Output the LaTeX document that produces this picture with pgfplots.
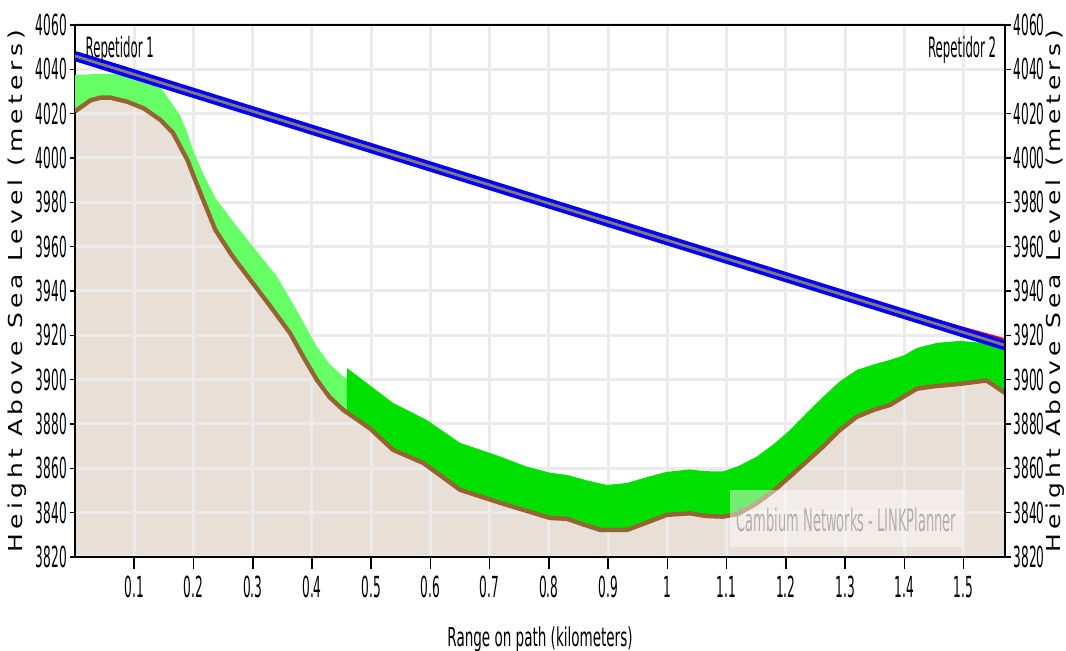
\documentclass[border=0pt]{standalone}
\usepackage{fontspec}
\setmainfont{DejaVu Sans}[FakeStretch=0.42]
\newfontfamily\xlabfont{DejaVu Sans}[FakeStretch=0.52]
\newfontfamily\ylabfont{DejaVu Sans}[FakeStretch=1.3,LetterSpace=22]
\usepackage{pgfplots}
\pgfplotsset{compat=1.18}
\definecolor{beige}{RGB}{232,224,215}
\definecolor{lgreen}{RGB}{102,255,102}
\definecolor{bgreen}{RGB}{0,224,0}
\definecolor{terrain}{RGB}{150,100,50}
\definecolor{gridc}{RGB}{235,235,235}
\definecolor{losmid}{RGB}{135,120,120}
\definecolor{wmtext}{RGB}{180,175,170}
\begin{document}
\begin{tikzpicture}
\begin{axis}[name=ax, set layers, scale only axis, width=465pt, height=266pt,
  xmin=0, xmax=1.57, ymin=3820, ymax=4060,
  xtick={0.1,0.2,0.3,0.4,0.5,0.6,0.7,0.8,0.9,1,1.1,1.2,1.3,1.4,1.5},
  ytick={3820,3840,3860,3880,3900,3920,3940,3960,3980,4000,4020,4040,4060},
  xtick pos=left, ytick pos=left, tick align=outside,
  xtick style={/pgfplots/major tick length=6pt},
  ytick style={/pgfplots/major tick length=2.5pt},
  grid=major, major grid style={gridc, line width=1.5pt},
  axis line style={black, line width=0.8pt},
  tick style={black, line width=0.8pt},
  ticklabel style={font=\fontsize{14.5}{16}\selectfont},
  xticklabel style={yshift=-1.8pt},
  yticklabel style={xshift=3.7pt},
  /pgf/number format/assume math mode=true,
  /pgf/number format/1000 sep={},
  scaled y ticks=false, scaled x ticks=false,
  xlabel={Range on path (kilometers)},
  xlabel style={font=\xlabfont\fontsize{13}{15}\selectfont, at={(axis description cs:0.5,-0.155)}, anchor=center},
]
% ground fill
\addplot[on layer=axis background, draw=none, fill=beige] coordinates {
(0.000,4021) (0.026,4026) (0.043,4027.2) (0.060,4027.2) (0.088,4025.4) (0.116,4022.4) (0.144,4017.2) (0.165,4011.5) (0.178,4005) (0.190,3999) (0.200,3992) (0.218,3980) (0.237,3967.5) (0.265,3956) (0.296,3945) (0.330,3933) (0.363,3921) (0.386,3910) (0.408,3900) (0.430,3892) (0.453,3886.3) (0.498,3878) (0.537,3868.3) (0.588,3862.4) (0.650,3850.3) (0.718,3844.4) (0.760,3841) (0.802,3837.6) (0.831,3837.2) (0.860,3834.5) (0.887,3832.2) (0.932,3832.2) (0.965,3835.5) (0.999,3839) (1.038,3839.7) (1.065,3838.5) (1.094,3838.2) (1.120,3839.5) (1.151,3844.2) (1.180,3850) (1.207,3856.3) (1.263,3869.8) (1.290,3877) (1.320,3883.3) (1.350,3886.5) (1.376,3888.6) (1.400,3892.5) (1.421,3895.9) (1.450,3897) (1.494,3898.1) (1.539,3899.6) (1.570,3894)
(1.570,3820) (0,3820)} -- cycle;
% light green clutter band
\addplot[draw=none, fill=lgreen] coordinates {
(0,4037.5) (0.05,4038) (0.095,4037.5) (0.116,4036.5) (0.130,4035) (0.144,4032) (0.160,4026) (0.178,4019) (0.190,4011) (0.200,4003) (0.218,3992) (0.237,3982) (0.265,3972) (0.296,3961.5) (0.341,3946.5) (0.375,3931) (0.408,3915) (0.430,3907) (0.453,3901.4) (0.459,3900.5)
(0.459,3885.2) (0.453,3886.3) (0.430,3892) (0.408,3900) (0.386,3910) (0.363,3921) (0.330,3933) (0.296,3945) (0.265,3956) (0.237,3967.5) (0.218,3980) (0.200,3992) (0.190,3999) (0.178,4005) (0.165,4011.5) (0.144,4017.2) (0.116,4022.4) (0.088,4025.4) (0.060,4027.2) (0.043,4027.2) (0.026,4026) (0.000,4021)} -- cycle;
% bright green clutter band
\addplot[draw=none, fill=bgreen] coordinates {
(0.459,3885.2) (0.459,3905.3) (0.500,3897) (0.537,3889.5) (0.594,3881.8) (0.650,3871.5) (0.718,3865.3) (0.760,3861) (0.802,3858) (0.831,3857) (0.865,3854.5) (0.898,3852.5) (0.932,3853.4) (0.965,3856) (0.999,3858.4) (1.038,3859.5) (1.065,3858.7) (1.094,3858.6) (1.120,3861) (1.151,3865.3) (1.180,3871) (1.207,3877.3) (1.235,3885) (1.263,3892.3) (1.290,3899) (1.320,3904.4) (1.350,3907) (1.376,3908.9) (1.400,3911) (1.421,3914.3) (1.455,3916.6) (1.494,3917.5) (1.533,3916.6) (1.570,3913.4)
(1.570,3894) (1.539,3899.6) (1.494,3898.1) (1.450,3897) (1.421,3895.9) (1.400,3892.5) (1.376,3888.6) (1.350,3886.5) (1.320,3883.3) (1.290,3877) (1.263,3869.8) (1.207,3856.3) (1.180,3850) (1.151,3844.2) (1.120,3839.5) (1.094,3838.2) (1.065,3838.5) (1.038,3839.7) (0.999,3839) (0.965,3835.5) (0.932,3832.2) (0.887,3832.2) (0.860,3834.5) (0.831,3837.2) (0.802,3837.6) (0.760,3841) (0.718,3844.4) (0.650,3850.3) (0.588,3862.4) (0.537,3868.3) (0.498,3878)} -- cycle;
% terrain line
\addplot[terrain, line width=2.2pt, line join=round] coordinates {
(0.000,4021) (0.026,4026) (0.043,4027.2) (0.060,4027.2) (0.088,4025.4) (0.116,4022.4) (0.144,4017.2) (0.165,4011.5) (0.178,4005) (0.190,3999) (0.200,3992) (0.218,3980) (0.237,3967.5) (0.265,3956) (0.296,3945) (0.330,3933) (0.363,3921) (0.386,3910) (0.408,3900) (0.430,3892) (0.453,3886.3) (0.498,3878) (0.537,3868.3) (0.588,3862.4) (0.650,3850.3) (0.718,3844.4) (0.760,3841) (0.802,3837.6) (0.831,3837.2) (0.860,3834.5) (0.887,3832.2) (0.932,3832.2) (0.965,3835.5) (0.999,3839) (1.038,3839.7) (1.065,3838.5) (1.094,3838.2) (1.120,3839.5) (1.151,3844.2) (1.180,3850) (1.207,3856.3) (1.263,3869.8) (1.290,3877) (1.320,3883.3) (1.350,3886.5) (1.376,3888.6) (1.400,3892.5) (1.421,3895.9) (1.450,3897) (1.494,3898.1) (1.539,3899.6) (1.570,3894)};
% red line
\addplot[red, line width=0.8pt] coordinates {(1.35,3934.6) (1.57,3918.3)};
% line of sight
\addplot[blue, line width=5pt] coordinates {(0,4046) (1.57,3915.5)};
\addplot[losmid, line width=1.4pt] coordinates {(0,4046) (1.57,3915.5)};
% labels
\node[anchor=north west, inner sep=0pt, font=\fontsize{14}{16}\selectfont] at (rel axis cs:0.011,0.979) {Repetidor 1};
\node[anchor=north east, inner sep=0pt, font=\fontsize{14}{16}\selectfont] at (rel axis cs:0.991,0.979) {Repetidor 2};
% watermark
\fill[white, opacity=0.45] (axis cs:1.106,3824.5) rectangle (axis cs:1.499,3850.3);
\node[text=wmtext, font=\fontsize{15.5}{17}\selectfont] at (axis cs:1.3025,3836.8) {Cambium Networks - LINKPlanner};
\end{axis}
\begin{axis}[scale only axis, width=465pt, height=266pt, at={(ax.south west)}, anchor=south west,
  xmin=0, xmax=1.57, ymin=3820, ymax=4060,
  axis y line*=right, axis x line=none,
  ytick={3820,3840,3860,3880,3900,3920,3940,3960,3980,4000,4020,4040,4060},
  tick align=outside, major tick length=3pt,
  axis line style={black, line width=0.8pt},
  tick style={black, line width=0.8pt},
  ticklabel style={font=\fontsize{14.5}{16}\selectfont},
  yticklabel style={xshift=-2.2pt},
  /pgf/number format/assume math mode=true,
  /pgf/number format/1000 sep={},
  scaled y ticks=false,
]
\end{axis}
\node[xshift=-29pt, rotate=90, font=\ylabfont\fontsize{9.6}{11}\selectfont] at (ax.west) {Height Above Sea Level (meters)};
\node[xshift=25pt, rotate=90, font=\ylabfont\fontsize{9.6}{11}\selectfont] at (ax.east) {Height Above Sea Level (meters)};
\pgfresetboundingbox
\path[use as bounding box] ([shift={(-37.5pt,-47pt)}]ax.south west) rectangle ([shift={(30.5pt,12.5pt)}]ax.north east);
\end{tikzpicture}
\end{document}
